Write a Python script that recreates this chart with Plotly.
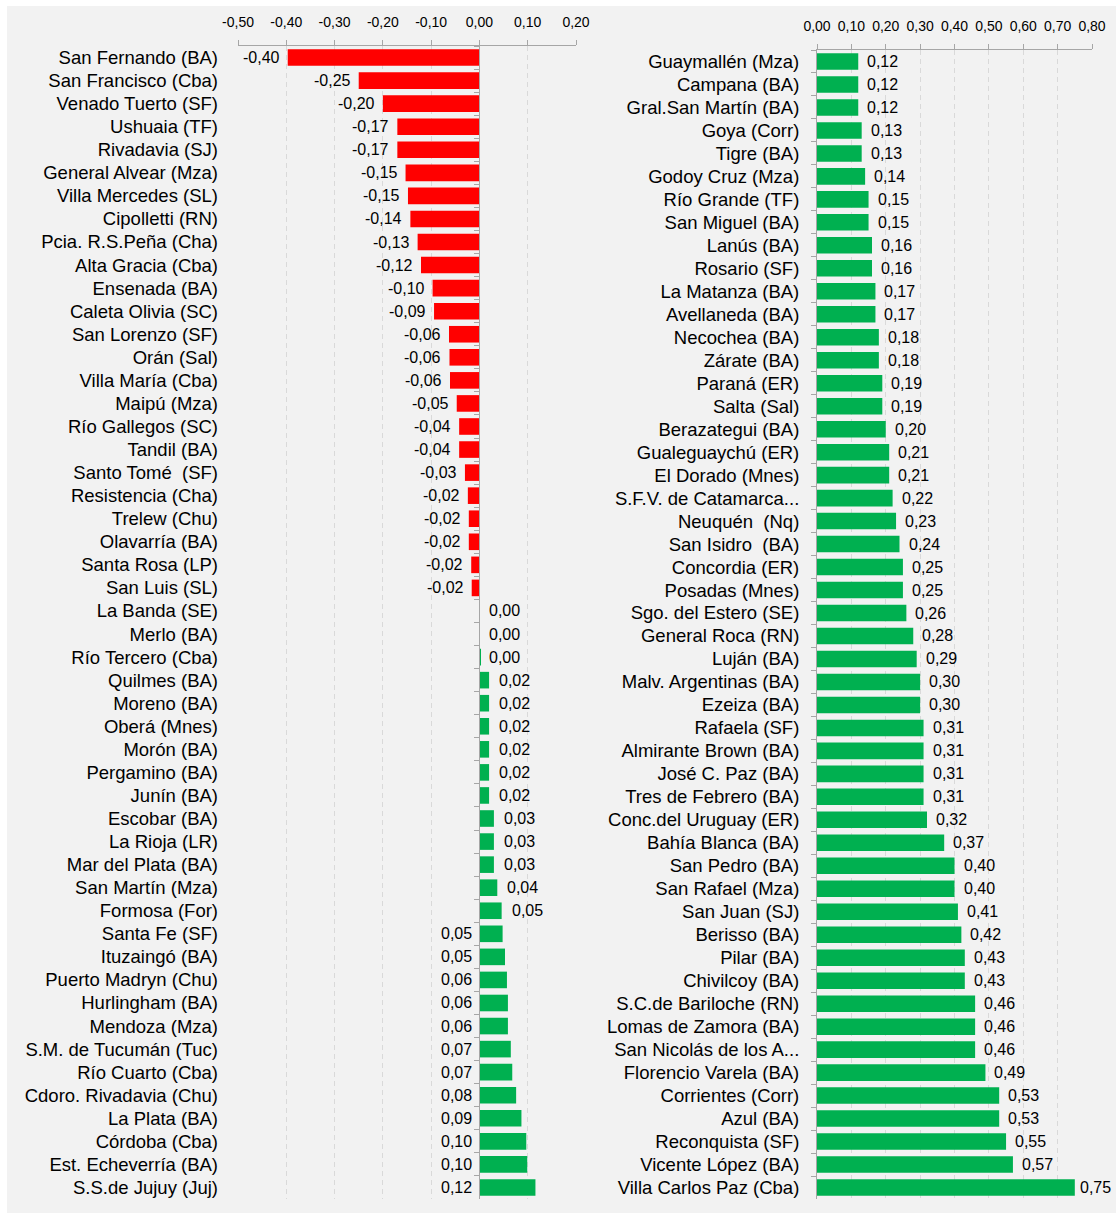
import plotly.graph_objects as go

# ---------------- data ----------------
left_names = [
    "San Fernando (BA)", "San Francisco (Cba)", "Venado Tuerto (SF)", "Ushuaia (TF)",
    "Rivadavia (SJ)", "General Alvear (Mza)", "Villa Mercedes (SL)", "Cipolletti (RN)",
    "Pcia. R.S.Peña (Cha)", "Alta Gracia (Cba)", "Ensenada (BA)", "Caleta Olivia (SC)",
    "San Lorenzo (SF)", "Orán (Sal)", "Villa María (Cba)", "Maipú (Mza)",
    "Río Gallegos (SC)", "Tandil (BA)", "Santo Tomé\u00a0 (SF)", "Resistencia (Cha)",
    "Trelew (Chu)", "Olavarría (BA)", "Santa Rosa (LP)", "San Luis (SL)",
    "La Banda (SE)", "Merlo (BA)", "Río Tercero (Cba)", "Quilmes (BA)",
    "Moreno (BA)", "Oberá (Mnes)", "Morón (BA)", "Pergamino (BA)",
    "Junín (BA)", "Escobar (BA)", "La Rioja (LR)", "Mar del Plata (BA)",
    "San Martín (Mza)", "Formosa (For)", "Santa Fe (SF)", "Ituzaingó (BA)",
    "Puerto Madryn (Chu)", "Hurlingham (BA)", "Mendoza (Mza)", "S.M. de Tucumán (Tuc)",
    "Río Cuarto (Cba)", "Cdoro. Rivadavia (Chu)", "La Plata (BA)", "Córdoba (Cba)",
    "Est. Echeverría (BA)", "S.S.de Jujuy (Juj)",
]
left_values = [
    -0.397, -0.25, -0.20, -0.17, -0.17, -0.153, -0.148, -0.143, -0.128, -0.121,
    -0.097, -0.094, -0.063, -0.062, -0.061, -0.047, -0.042, -0.042, -0.030, -0.024,
    -0.022, -0.022, -0.017, -0.016, 0.00, 0.00, 0.002, 0.02, 0.02, 0.02,
    0.02, 0.02, 0.02, 0.03, 0.03, 0.03, 0.037, 0.046, 0.048, 0.053,
    0.057, 0.059, 0.059, 0.065, 0.068, 0.076, 0.087, 0.097, 0.099, 0.116,
]

right_names = [
    "Guaymallén (Mza)", "Campana (BA)", "Gral.San Martín (BA)", "Goya (Corr)",
    "Tigre (BA)", "Godoy Cruz (Mza)", "Río Grande (TF)", "San Miguel (BA)",
    "Lanús (BA)", "Rosario (SF)", "La Matanza (BA)", "Avellaneda (BA)",
    "Necochea (BA)", "Zárate (BA)", "Paraná (ER)", "Salta (Sal)",
    "Berazategui (BA)", "Gualeguaychú (ER)", "El Dorado (Mnes)", "S.F.V. de Catamarca...",
    "Neuquén\u00a0 (Nq)", "San Isidro\u00a0 (BA)", "Concordia (ER)", "Posadas (Mnes)",
    "Sgo. del Estero (SE)", "General Roca (RN)", "Luján (BA)", "Malv. Argentinas (BA)",
    "Ezeiza (BA)", "Rafaela (SF)", "Almirante Brown (BA)", "José C. Paz (BA)",
    "Tres de Febrero (BA)", "Conc.del Uruguay (ER)", "Bahía Blanca (BA)", "San Pedro (BA)",
    "San Rafael (Mza)", "San Juan (SJ)", "Berisso (BA)", "Pilar (BA)",
    "Chivilcoy (BA)", "S.C.de Bariloche (RN)", "Lomas de Zamora (BA)", "San Nicolás de los A...",
    "Florencio Varela (BA)", "Corrientes (Corr)", "Azul (BA)", "Reconquista (SF)",
    "Vicente López (BA)", "Villa Carlos Paz (Cba)",
]
right_values = [
    0.12, 0.12, 0.12, 0.13, 0.13, 0.14, 0.15, 0.15, 0.16, 0.16,
    0.17, 0.17, 0.18, 0.18, 0.19, 0.19, 0.20, 0.21, 0.21, 0.22,
    0.23, 0.24, 0.25, 0.25, 0.26, 0.28, 0.29, 0.30, 0.30, 0.31,
    0.31, 0.31, 0.31, 0.32, 0.37, 0.40, 0.40, 0.41, 0.42, 0.43,
    0.43, 0.46, 0.46, 0.46, 0.49, 0.53, 0.53, 0.55, 0.57, 0.75,
]

left_ticks = [-0.5, -0.4, -0.3, -0.2, -0.1, 0.0, 0.1, 0.2]
right_ticks = [0.0, 0.1, 0.2, 0.3, 0.4, 0.5, 0.6, 0.7, 0.8]

# first positive city whose label sits left of the axis
LEFT_LABEL_FROM = "Santa Fe (SF)"

# ---------------- style ----------------
W, H = 1116, 1213
FONT = "Liberation Sans, Arial, sans-serif"
RED = "#ff0000"
GREEN = "#00b050"
AXIS = "#a6a6a6"
GRID = "#d9d9d9"
BG = "#f2f2f2"
CAT_SIZE = 18.5
VAL_SIZE = 16

L_RANGE = [-0.5, 0.2]
R_RANGE = [0.0, 0.8]
L_DOM = [238 / W, 576 / W]
R_DOM = [817 / W, 1092 / W]
L_YDOM = [1 - 1199 / H, 1 - 46 / H]
R_YDOM = [1 - 1199 / H, 1 - 50 / H]


def fmt(v):
    v = round(v, 2)
    return f"{abs(v) if v == 0 else v:.2f}".replace(".", ",")


fig = go.Figure()

fig.add_trace(go.Bar(
    x=left_values, y=left_names, orientation="h", xaxis="x", yaxis="y",
    marker=dict(color=[RED if v < 0 else GREEN for v in left_values], line=dict(width=0)),
    hoverinfo="skip", showlegend=False,
))
# invisible trace to drive the axis line at zero with boundary ticks
fig.add_trace(go.Scatter(
    x=[0] * len(left_names), y=left_names, xaxis="x", yaxis="y3",
    mode="markers", marker=dict(opacity=0), hoverinfo="skip", showlegend=False,
))
fig.add_trace(go.Bar(
    x=right_values, y=right_names, orientation="h", xaxis="x2", yaxis="y2",
    marker=dict(color=GREEN, line=dict(width=0)),
    hoverinfo="skip", showlegend=False,
))

annotations = []
thr = left_names.index(LEFT_LABEL_FROM)
for i, (n, v) in enumerate(zip(left_names, left_values)):
    r = round(v, 2)
    if r < 0:
        x, xa, xs = v, "right", -6
    elif r == 0:
        x, xa, xs = 0, "left", 8
    elif i < thr:
        x, xa, xs = v, "left", 8
    else:
        x, xa, xs = 0, "right", -5
    annotations.append(dict(
        x=x, y=n, xref="x", yref="y", text=fmt(v), showarrow=False,
        xanchor=xa, xshift=xs, yanchor="middle",
        font=dict(family=FONT, size=VAL_SIZE, color="#000000"),
    ))

r_px0 = R_DOM[0] * W
r_scale = (R_DOM[1] - R_DOM[0]) * W / (R_RANGE[1] - R_RANGE[0])
label_w = 2.0 * VAL_SIZE
for n, v in zip(right_names, right_values):
    px = r_px0 + (v - R_RANGE[0]) * r_scale
    xs = 7
    if px + xs + label_w > W - 6:
        xs = max(3, W - 6 - label_w - px)
    annotations.append(dict(
        x=v, y=n, xref="x2", yref="y2", text=fmt(v), showarrow=False,
        xanchor="left", xshift=xs, yanchor="middle",
        font=dict(family=FONT, size=VAL_SIZE, color="#000000"),
    ))


def tick_text(ticks):
    return [f"{t:.2f}".replace(".", ",") for t in ticks]


xcommon = dict(
    side="top", ticks="outside", ticklen=5,
    tickcolor=AXIS, showline=True, linecolor=AXIS, linewidth=1,
    showgrid=True, gridcolor=GRID, griddash="5px,4px", gridwidth=1,
    zeroline=False, tickfont=dict(family=FONT, size=14, color="#000000"),
    ticklabelstandoff=7, automargin=False, fixedrange=True,
)

zero_pos = L_DOM[0] + (0 - L_RANGE[0]) / (L_RANGE[1] - L_RANGE[0]) * (L_DOM[1] - L_DOM[0])

fig.update_layout(
    width=W, height=H, autosize=False,
    margin=dict(l=0, r=0, t=0, b=0, pad=0),
    paper_bgcolor="white", plot_bgcolor="rgba(0,0,0,0)",
    separators=",.",
    bargap=0.28,
    font=dict(family=FONT, color="#000000"),
    xaxis=dict(domain=L_DOM, range=L_RANGE, anchor="y", tickvals=left_ticks,
               ticktext=tick_text(left_ticks), **xcommon),
    xaxis2=dict(domain=R_DOM, range=R_RANGE, anchor="y2", tickvals=right_ticks,
                ticktext=tick_text(right_ticks), **xcommon),
    yaxis=dict(
        domain=L_YDOM, anchor="x", type="category", categoryorder="array",
        categoryarray=left_names, range=[len(left_names) - 0.5, -0.5],
        showline=False, ticks="", showgrid=False, zeroline=False,
        ticklabelstandoff=19, tickfont=dict(family=FONT, size=CAT_SIZE, color="#000000"),
        automargin=False, fixedrange=True,
    ),
    yaxis3=dict(
        overlaying="y", anchor="free", position=zero_pos, type="category",
        categoryorder="array", categoryarray=left_names,
        range=[len(left_names) - 0.5, -0.5],
        showline=True, linecolor=AXIS, linewidth=1, ticks="outside",
        tickson="boundaries", ticklen=5, tickcolor=AXIS,
        showticklabels=False, showgrid=False, zeroline=False,
        automargin=False, fixedrange=True,
    ),
    yaxis2=dict(
        domain=R_YDOM, anchor="x2", type="category", categoryorder="array",
        categoryarray=right_names, range=[len(right_names) - 0.5, -0.5],
        showline=True, linecolor=AXIS, linewidth=1, ticks="outside",
        tickson="boundaries", ticklen=5, tickcolor=AXIS, showgrid=False,
        zeroline=False, ticklabelstandoff=13,
        tickfont=dict(family=FONT, size=CAT_SIZE, color="#000000"),
        automargin=False, fixedrange=True,
    ),
    annotations=annotations,
    shapes=[dict(
        type="rect", xref="paper", yref="paper", x0=7 / W, x1=1, y0=0, y1=1 - 6 / H,
        fillcolor=BG, line=dict(width=0), layer="below",
    )],
)

# remove the default 8px page margin so the figure fills the window exactly
fig.write_html(
    "out.html",
    config=dict(displayModeBar=False),
    post_script="document.body.style.margin='0';document.body.style.overflow='hidden';",
)
